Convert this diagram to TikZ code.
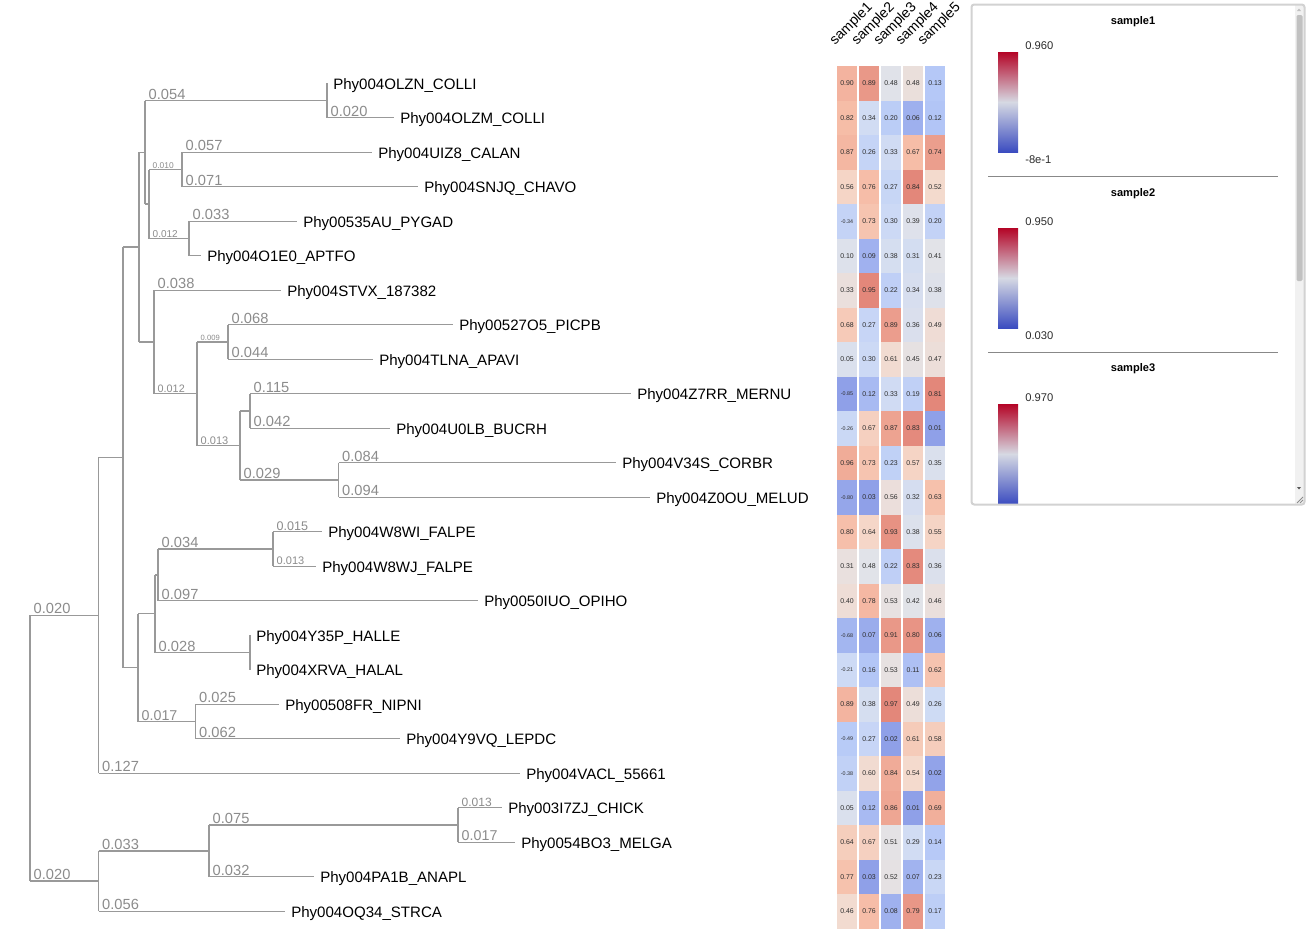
\documentclass[tikz,border=0pt]{standalone}
\usepackage{fontspec}
\setmainfont{Liberation Sans}
\usetikzlibrary{calc}

\definecolor{brc}{RGB}{153,153,153}
\definecolor{lbc}{RGB}{140,140,140}
\definecolor{txc}{RGB}{45,45,45}
\definecolor{hsA}{RGB}{143,160,232}
\definecolor{hsB}{RGB}{181,200,247}
\definecolor{hsC}{RGB}{205,218,245}
\definecolor{hsD}{RGB}{226,227,232}
\definecolor{hsE}{RGB}{245,217,203}
\definecolor{hsF}{RGB}{246,188,166}
\definecolor{hsG}{RGB}{227,135,122}
\definecolor{cwR}{RGB}{180,4,38}
\definecolor{cwM}{RGB}{214,217,227}
\definecolor{cwB}{RGB}{59,76,192}
\definecolor{pnl}{RGB}{210,210,210}
\definecolor{sep}{RGB}{136,136,136}
\definecolor{trk}{RGB}{241,241,241}
\definecolor{thm}{RGB}{193,193,193}

\newcommand\myfs[1]{\fontsize{#1}{#1}\selectfont}

\newcommand\hmseg[5]{%
  \pgfmathsetmacro\hmP{min(100,max(0,((#1)-(#2))/((#3)-(#2))*100))}%
  \colorlet{hmc}{#5!\hmP!#4}}
\newcommand\hmcolor[1]{%
  \pgfmathsetmacro\hmT{max(0,min(1,#1))}%
  \ifdim\hmT pt<0.15pt \hmseg{\hmT}{0}{0.15}{hsA}{hsB}%
  \else\ifdim\hmT pt<0.3pt \hmseg{\hmT}{0.15}{0.3}{hsB}{hsC}%
  \else\ifdim\hmT pt<0.5pt \hmseg{\hmT}{0.3}{0.5}{hsC}{hsD}%
  \else\ifdim\hmT pt<0.65pt \hmseg{\hmT}{0.5}{0.65}{hsD}{hsE}%
  \else\ifdim\hmT pt<0.8pt \hmseg{\hmT}{0.65}{0.8}{hsE}{hsF}%
  \else \hmseg{\hmT}{0.8}{1}{hsF}{hsG}%
  \fi\fi\fi\fi\fi}
\newcommand\hmtext[1]{\ifdim #1pt<0pt {\myfs{4}#1}\else #1\fi}
\newcommand\hmcell[5]{%
  \hmcolor{((#3)-(#4))/((#5)-(#4))}%
  \pgfmathsetmacro\hmX{847+22*(#1-1)}%
  \pgfmathsetmacro\hmY{83.25+34.5*(#2-1)}%
  \node[cellbox, fill=hmc] (h#1-#2) at (\hmX,\hmY) {\hmtext{#3}};}

\begin{document}
\begin{tikzpicture}[x=0.75pt,y=-0.75pt,
  br/.style={draw=brc, line width=1.1pt},
  bl/.style={anchor=base west, inner sep=0pt, xshift=2.25pt, yshift=1pt, text=lbc, font=\myfs{#1}},
  bl/.default=11,
  leaf/.style={anchor=base west, inner sep=0pt, xshift=4.5pt, yshift=-4.5pt, font=\myfs{11.3}, text=black},
  cellbox/.style={minimum width=15pt, minimum height=25.875pt, inner sep=0pt, text=txc, font=\myfs{5.2}},
  hdr/.style={anchor=base west, inner sep=0pt, rotate=45, font=\myfs{10.6}},
  ltitle/.style={inner sep=0pt, font=\myfs{8.3}\bfseries},
  lval/.style={anchor=west, inner sep=0pt, font=\myfs{8.4}, text=txc},
  bar/.style={top color=cwR, bottom color=cwB, middle color=cwM, draw=none}]

\useasboundingbox[fill=white] (0,0) rectangle (1307,939);

% ---------- tree: internal nodes ----------
\coordinate (root) at (30,748.2);
\coordinate (A) at (98.5,615.3);
\coordinate (W) at (98.5,881.1);
\coordinate (B) at (123,457.4);
\coordinate (C) at (139,247.1);
\coordinate (D) at (138,667.6);
\coordinate (E) at (145,152.25);
\coordinate (F) at (327,100.5);
\coordinate (G) at (149,204);
\coordinate (H) at (182,169.5);
\coordinate (I) at (189,238.5);
\coordinate (J) at (154,342);
\coordinate (K) at (197,393.75);
\coordinate (L) at (228,342);
\coordinate (M) at (240,445.5);
\coordinate (N) at (250,411);
\coordinate (O) at (338.5,480);
\coordinate (P) at (155,613.7);
\coordinate (Q) at (158,574.9);
\coordinate (R) at (273,549);
\coordinate (S) at (250,652.5);
\coordinate (T) at (195.5,721.5);
\coordinate (V) at (209,850.9);
\coordinate (X) at (458,825);

% ---------- leaves ----------
\foreach \lx/\ly/\lname [count=\i] in {
 327/83.25/Phy004OLZN\_COLLI, 394/117.75/Phy004OLZM\_COLLI, 372/152.25/Phy004UIZ8\_CALAN,
 418/186.75/Phy004SNJQ\_CHAVO, 297/221.25/Phy00535AU\_PYGAD, 201/255.75/Phy004O1E0\_APTFO,
 281/290.25/Phy004STVX\_187382, 453/324.75/Phy00527O5\_PICPB, 373/359.25/Phy004TLNA\_APAVI,
 631/393.75/Phy004Z7RR\_MERNU, 390/428.25/Phy004U0LB\_BUCRH, 616/462.75/Phy004V34S\_CORBR,
 650/497.25/Phy004Z0OU\_MELUD, 322/531.75/Phy004W8WI\_FALPE, 316/566.25/Phy004W8WJ\_FALPE,
 478/600.75/Phy0050IUO\_OPIHO, 250/635.25/Phy004Y35P\_HALLE, 250/669.75/Phy004XRVA\_HALAL,
 279/704.25/Phy00508FR\_NIPNI, 400/738.75/Phy004Y9VQ\_LEPDC, 520/773.25/Phy004VACL\_55661,
 502/807.75/Phy003I7ZJ\_CHICK, 515/842.25/Phy0054BO3\_MELGA, 314/876.75/Phy004PA1B\_ANAPL,
 285/911.25/Phy004OQ34\_STRCA}{
  \coordinate (t\i) at (\lx,\ly);
  \node[leaf] (n\i) at (t\i) {\lname};
}

% ---------- vertical lines ----------
\draw[br] (root |- A) -- (root |- W);
\draw[br] (A |- B) -- (A |- t21);
\draw[br] (B |- C) -- (B |- D);
\draw[br] (C |- E) -- (C |- J);
\draw[br] (E |- F) -- (E |- G);
\draw[br] (F |- t1) -- (F |- t2);
\draw[br] (G |- H) -- (G |- I);
\draw[br] (H |- t3) -- (H |- t4);
\draw[br] (I |- t5) -- (I |- t6);
\draw[br] (J |- t7) -- (J |- K);
\draw[br] (K |- L) -- (K |- M);
\draw[br] (L |- t8) -- (L |- t9);
\draw[br] (M |- N) -- (M |- O);
\draw[br] (N |- t10) -- (N |- t11);
\draw[br] (O |- t12) -- (O |- t13);
\draw[br] (D |- P) -- (D |- T);
\draw[br] (P |- Q) -- (P |- S);
\draw[br] (Q |- R) -- (Q |- t16);
\draw[br] (R |- t14) -- (R |- t15);
\draw[br] (S |- t17) -- (S |- t18);
\draw[br] (T |- t19) -- (T |- t20);
\draw[br] (W |- V) -- (W |- t25);
\draw[br] (V |- X) -- (V |- t24);
\draw[br] (X |- t22) -- (X |- t23);

% ---------- horizontal branches ----------
\draw[br] (root |- A) -- node[bl, pos=0] {0.020} (A);
\draw[br] (root |- W) -- node[bl, pos=0] {0.020} (W);
\draw[br] (A |- B) -- (B);
\draw[br] (A |- t21) -- node[bl, pos=0] {0.127} (t21);
\draw[br] (B |- C) -- (C);
\draw[br] (B |- D) -- (D);
\draw[br] (C |- E) -- (E);
\draw[br] (C |- J) -- (J);
\draw[br] (E |- F) -- node[bl, pos=0] {0.054} (F);
\draw[br] (E |- G) -- (G);
\draw[br] (F |- t2) -- node[bl, pos=0] {0.020} (t2);
\draw[br] (G |- H) -- node[bl=6.3, pos=0] {0.010} (H);
\draw[br] (G |- I) -- node[bl=7.5, pos=0] {0.012} (I);
\draw[br] (H |- t3) -- node[bl, pos=0] {0.057} (t3);
\draw[br] (H |- t4) -- node[bl, pos=0] {0.071} (t4);
\draw[br] (I |- t5) -- node[bl, pos=0] {0.033} (t5);
\draw[br] (I |- t6) -- (t6);
\draw[br] (J |- t7) -- node[bl, pos=0] {0.038} (t7);
\draw[br] (J |- K) -- node[bl=8.1, pos=0] {0.012} (K);
\draw[br] (K |- L) -- node[bl=5.7, pos=0] {0.009} (L);
\draw[br] (K |- M) -- node[bl=8.25, pos=0] {0.013} (M);
\draw[br] (L |- t8) -- node[bl, pos=0] {0.068} (t8);
\draw[br] (L |- t9) -- node[bl, pos=0] {0.044} (t9);
\draw[br] (M |- N) -- (N);
\draw[br] (M |- O) -- node[bl, pos=0] {0.029} (O);
\draw[br] (N |- t10) -- node[bl, pos=0] {0.115} (t10);
\draw[br] (N |- t11) -- node[bl, pos=0] {0.042} (t11);
\draw[br] (O |- t12) -- node[bl, pos=0] {0.084} (t12);
\draw[br] (O |- t13) -- node[bl, pos=0] {0.094} (t13);
\draw[br] (D |- P) -- (P);
\draw[br] (D |- T) -- node[bl=10.7, pos=0] {0.017} (T);
\draw[br] (P |- Q) -- (Q);
\draw[br] (P |- S) -- node[bl, pos=0] {0.028} (S);
\draw[br] (Q |- R) -- node[bl, pos=0] {0.034} (R);
\draw[br] (Q |- t16) -- node[bl, pos=0] {0.097} (t16);
\draw[br] (R |- t14) -- node[bl=9.4, pos=0] {0.015} (t14);
\draw[br] (R |- t15) -- node[bl=8.25, pos=0] {0.013} (t15);
\draw[br] (T |- t19) -- node[bl, pos=0] {0.025} (t19);
\draw[br] (T |- t20) -- node[bl, pos=0] {0.062} (t20);
\draw[br] (W |- V) -- node[bl, pos=0] {0.033} (V);
\draw[br] (W |- t25) -- node[bl, pos=0] {0.056} (t25);
\draw[br] (V |- X) -- node[bl, pos=0] {0.075} (X);
\draw[br] (V |- t24) -- node[bl, pos=0] {0.032} (t24);
\draw[br] (X |- t22) -- node[bl=9, pos=0] {0.013} (t22);
\draw[br] (X |- t23) -- node[bl=10.7, pos=0] {0.017} (t23);

% ---------- heatmap ----------
\foreach \va/\vb/\vc/\vd/\ve [count=\r] in {
 0.90/0.89/0.48/0.48/0.13, 0.82/0.34/0.20/0.06/0.12, 0.87/0.26/0.33/0.67/0.74,
 0.56/0.76/0.27/0.84/0.52, -0.34/0.73/0.30/0.39/0.20, 0.10/0.09/0.38/0.31/0.41,
 0.33/0.95/0.22/0.34/0.38, 0.68/0.27/0.89/0.36/0.49, 0.05/0.30/0.61/0.45/0.47,
 -0.85/0.12/0.33/0.19/0.81, -0.26/0.67/0.87/0.83/0.01, 0.96/0.73/0.23/0.57/0.35,
 -0.80/0.03/0.56/0.32/0.63, 0.80/0.64/0.93/0.38/0.55, 0.31/0.48/0.22/0.83/0.36,
 0.40/0.78/0.53/0.42/0.46, -0.68/0.07/0.91/0.80/0.06, -0.21/0.16/0.53/0.11/0.62,
 0.89/0.38/0.97/0.49/0.26, -0.49/0.27/0.02/0.61/0.58, -0.38/0.60/0.84/0.54/0.02,
 0.05/0.12/0.86/0.01/0.69, 0.64/0.67/0.51/0.29/0.14, 0.77/0.03/0.52/0.07/0.23,
 0.46/0.76/0.08/0.79/0.17}{
  \hmcell{1}{\r}{\va}{-0.85}{1.25}
  \hmcell{2}{\r}{\vb}{0.03}{0.95}
  \hmcell{3}{\r}{\vc}{0.02}{0.97}
  \hmcell{4}{\r}{\vd}{0.01}{0.84}
  \hmcell{5}{\r}{\ve}{0.01}{0.81}
}
\foreach \k in {1,...,5}{
  \node[hdr] (s\k) at ({835+22*(\k-1)},46) {sample\k};
}

% ---------- legend panel ----------
\fill[white] (971.5,4.5) rectangle (1304.5,504.5);
\begin{scope}
  \clip (971.5,4.5) rectangle (1304.5,504.5);
  \node[ltitle] (lt1) at (1133,22) {sample1};
  \shade[bar] (998,52) rectangle (1018,152);
  \node[lval] (lv1a) at (1025,46) {0.960};
  \node[lval] (lv1b) at (1025,160) {-8e-1};
  \draw[sep, line width=0.75pt] (988,176) -- (1278,176);
  \node[ltitle] (lt2) at (1133,194) {sample2};
  \shade[bar] (998,228) rectangle (1018,328);
  \node[lval] (lv2a) at (1025,222) {0.950};
  \node[lval] (lv2b) at (1025,336) {0.030};
  \draw[sep, line width=0.75pt] (988,352) -- (1278,352);
  \node[ltitle] (lt3) at (1133,369) {sample3};
  \shade[bar] (998,404) rectangle (1018,504);
  \node[lval] (lv3a) at (1025,398) {0.970};
  % scrollbar
  \fill[trk] (1294.5,4.5) rectangle (1304.5,504.5);
  \fill[thm, rounded corners=1pt] (1296.5,15) rectangle (1302.5,281);
  \fill[thm] (1297,11) -- (1301,11) -- (1299,8.5) -- cycle;
  \fill[black!65] (1297,487) -- (1301,487) -- (1299,489.5) -- cycle;
  \draw[black!45, line width=0.6pt] (1297,503) -- (1303,497) (1300,503) -- (1303,500);
\end{scope}
\draw[pnl, line width=1.5pt, rounded corners=2pt] (971.5,4.5) rectangle (1304.5,504.5);

\end{tikzpicture}
\end{document}
